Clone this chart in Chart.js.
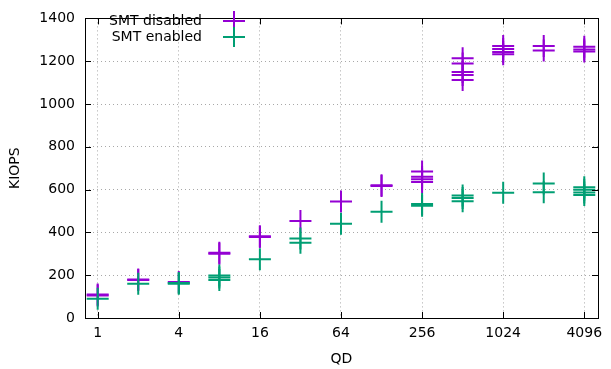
<!DOCTYPE html>
<html>
<head>
<meta charset="utf-8">
<script src="https://cdn.jsdelivr.net/npm/chart.js@4/dist/chart.umd.min.js"></script>
<style>
  html, body { margin: 0; padding: 0; background: #fff; }
  #wrap { width: 611px; height: 369px; position: relative; }
</style>
</head>
<body>
<div id="wrap"><canvas id="chart"></canvas></div>
<script>
// queue depths (x axis, log2)
const qdValues = [1, 2, 4, 8, 16, 32, 64, 128, 256, 512, 1024, 2048, 4096];
const qdTicks = [1, 4, 16, 64, 256, 1024, 4096];
const yTicks = [0, 200, 400, 600, 800, 1000, 1200, 1400];

// KIOPS per run, one list per QD
const smtDisabled = [
    [110, 105], [180, 178], [168], [305, 300], [382, 378], [453], [544],
    [620, 617], [685, 660, 648, 635], [1214, 1189, 1149, 1135, 1112],
    [1271, 1257, 1243, 1232], [1271, 1250], [1267, 1255, 1245]
];
const smtEnabled = [
    [90], [160], [164, 160], [199, 189, 177], [274], [371, 352], [440],
    [496], [533, 525], [572, 561, 546], [585], [628, 588], [611, 599, 586, 575]
];

const seriesNames = ['SMT disabled', 'SMT enabled'];
const seriesColors = ['#9400d3', '#009e73'];

function toPoints(runs) {
    const pts = [];
    runs.forEach((vals, i) => vals.forEach(v => pts.push({ x: qdValues[i], y: v })));
    return pts;
}

const FONT = 'DejaVu Sans';

// gnuplot-like frame, inward ticks and key
const framePlugin = {
    id: 'frame',
    afterDraw(chart) {
        const { ctx, chartArea: a, scales } = chart;
        ctx.save();
        ctx.strokeStyle = '#000';
        ctx.lineWidth = 1;
        ctx.beginPath();
        yTicks.forEach(v => {
            const y = Math.round(scales.y.getPixelForValue(v)) + 0.5;
            ctx.moveTo(a.left, y); ctx.lineTo(a.left + 6, y);
            ctx.moveTo(a.right, y); ctx.lineTo(a.right - 6, y);
        });
        qdTicks.forEach(v => {
            const x = Math.round(scales.x.getPixelForValue(v)) + 0.5;
            ctx.moveTo(x, a.bottom); ctx.lineTo(x, a.bottom - 6);
            ctx.moveTo(x, a.top); ctx.lineTo(x, a.top + 6);
        });
        ctx.stroke();
        ctx.strokeRect(Math.round(a.left) + 0.5, Math.round(a.top) + 0.5,
            Math.round(a.right - a.left), Math.round(a.bottom - a.top));

        // key
        ctx.font = '14px "' + FONT + '"';
        ctx.textAlign = 'right';
        ctx.textBaseline = 'middle';
        seriesNames.forEach((name, i) => {
            const y = 21 + i * 16;
            ctx.fillStyle = '#000';
            ctx.fillText(name, 202, y);
            ctx.strokeStyle = seriesColors[i];
            ctx.lineWidth = 2;
            ctx.beginPath();
            ctx.moveTo(223, y); ctx.lineTo(245, y);
            ctx.moveTo(234, y - 10); ctx.lineTo(234, y + 10);
            ctx.stroke();
        });
        ctx.restore();
    }
};

new Chart(document.getElementById('chart'), {
    type: 'scatter',
    data: {
        datasets: seriesNames.map((name, i) => ({
            label: name,
            data: toPoints(i === 0 ? smtDisabled : smtEnabled),
            pointStyle: 'cross',
            pointRadius: 11,
            pointHoverRadius: 11,
            pointBorderWidth: 2,
            borderColor: seriesColors[i],
            backgroundColor: seriesColors[i],
            showLine: false,
            order: i === 0 ? 1 : 0
        }))
    },
    options: {
        responsive: true,
        maintainAspectRatio: false,
        animation: false,
        layout: { padding: { top: 16, right: 1, left: 0, bottom: 0 } },
        plugins: {
            legend: { display: false },
            tooltip: { enabled: false }
        },
        scales: {
            x: {
                type: 'logarithmic',
                min: 0.805,
                max: 5179,
                afterBuildTicks: (s) => { s.ticks = qdTicks.map(v => ({ value: v })); },
                afterFit: (s) => { s.height = 51; },
                ticks: {
                    callback: (v) => String(v),
                    color: '#000',
                    padding: 7,
                    maxRotation: 0,
                    autoSkip: false,
                    font: { family: FONT, size: 14 }
                },
                grid: { color: '#a8a8a8', drawTicks: false, tickLength: 0 },
                border: { display: false, dash: [1, 3] },
                title: {
                    display: true, text: 'QD', color: '#000',
                    padding: { top: 0, bottom: 1 },
                    font: { family: FONT, size: 14 }
                }
            },
            y: {
                min: 0,
                max: 1400,
                afterBuildTicks: (s) => { s.ticks = yTicks.map(v => ({ value: v })); },
                afterFit: (s) => { s.width = 85; },
                ticks: {
                    callback: (v) => String(v),
                    color: '#000',
                    padding: 10,
                    font: { family: FONT, size: 14 }
                },
                grid: { color: '#a8a8a8', drawTicks: false, tickLength: 0 },
                border: { display: false, dash: [1, 3] },
                title: {
                    display: true, text: 'KIOPS', color: '#000',
                    padding: { top: 7, bottom: 0 },
                    font: { family: FONT, size: 14 }
                }
            }
        }
    },
    plugins: [framePlugin]
});
</script>
</body>
</html>
